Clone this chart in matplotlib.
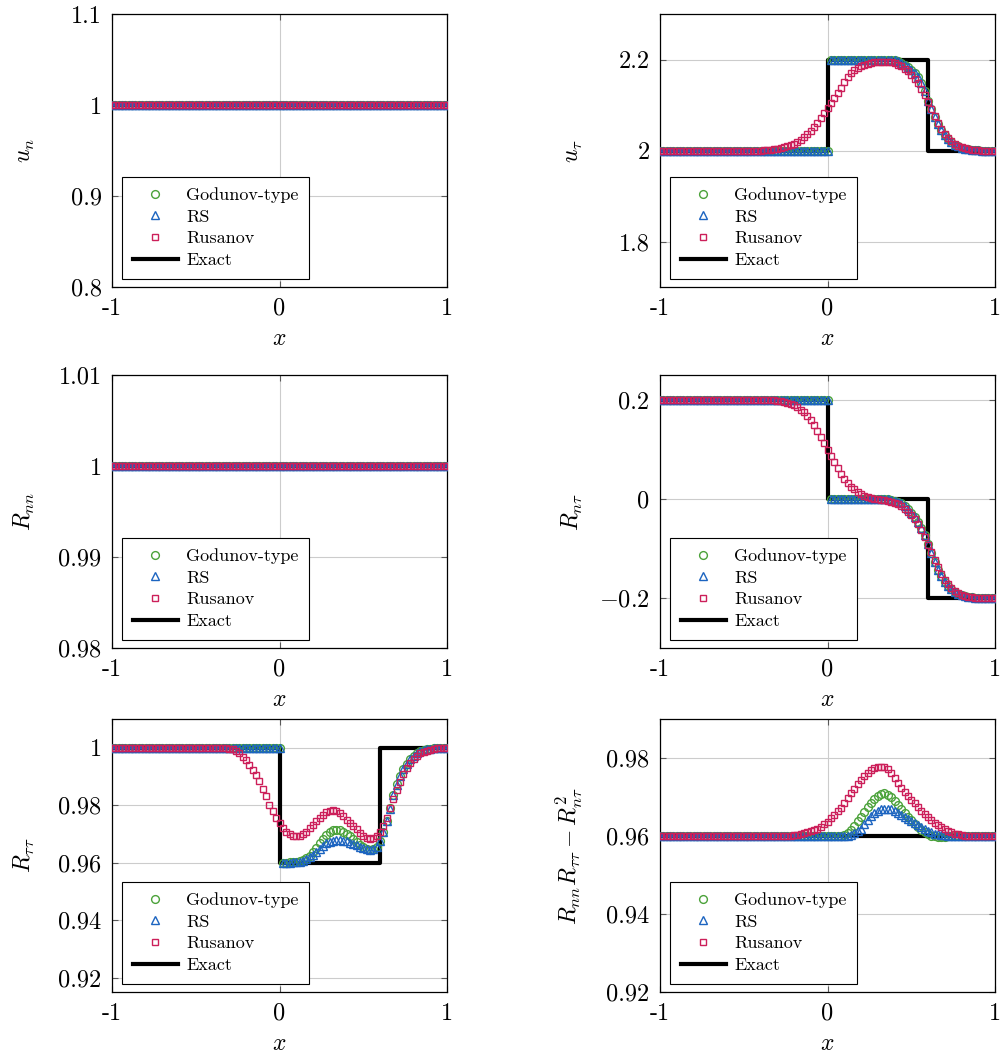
import numpy as np
import matplotlib.pyplot as plt

plt.rcParams['font.family'] = 'cmr10'
plt.rcParams['mathtext.fontset'] = 'cm'
plt.rcParams['axes.unicode_minus'] = False
plt.rcParams['axes.formatter.use_mathtext'] = True

# grid of the numerical solution (101 nodes on [-1, 1])
x = np.linspace(-1, 1, 101)

# exact solution breakpoints
ex_x = [-1.0, 0.0, 0.0, 0.6, 0.6, 1.0]
un_ex = [1.0, 1.0, 1.0, 1.0, 1.0, 1.0]
ut_ex = [2.0, 2.0, 2.2, 2.2, 2.0, 2.0]
rnn_ex = [1.0, 1.0, 1.0, 1.0, 1.0, 1.0]
rnt_ex = [0.2, 0.2, 0.0, 0.0, -0.2, -0.2]
rtt_ex = [1.0, 1.0, 0.96, 0.96, 1.0, 1.0]
det_ex = [0.96, 0.96, 0.96, 0.96, 0.96, 0.96]

# u_n and R_nn stay at 1 for all three schemes
un_god = [1.0] * 101
un_rs = [1.0] * 101
un_rus = [1.0] * 101
rnn_god = [1.0] * 101
rnn_rs = [1.0] * 101
rnn_rus = [1.0] * 101

# u_tau
ut_god = [2.0] * 51 + [2.2] * 17 + [
    2.200, 2.199, 2.198, 2.196, 2.193, 2.189, 2.184, 2.178, 2.170, 2.161,
    2.148, 2.130, 2.110, 2.091, 2.074, 2.058, 2.045, 2.034, 2.025, 2.018,
    2.013, 2.009, 2.006, 2.004, 2.003, 2.002, 2.001, 2.001, 2.000, 2.000,
    2.000, 2.000, 2.000]
ut_rs = [2.0] * 51 + [2.2] * 17 + [
    2.200, 2.199, 2.198, 2.196, 2.193, 2.189, 2.184, 2.178, 2.170, 2.161,
    2.148, 2.130, 2.110, 2.091, 2.074, 2.058, 2.045, 2.034, 2.025, 2.018,
    2.013, 2.009, 2.006, 2.004, 2.003, 2.002, 2.001, 2.001, 2.000, 2.000,
    2.000, 2.000, 2.000]
ut_rus = [2.0] * 30 + [
    2.000, 2.001, 2.001, 2.002, 2.003, 2.004, 2.005, 2.007, 2.009, 2.012,
    2.015, 2.019, 2.024, 2.030, 2.037, 2.044, 2.052, 2.061, 2.071, 2.082,
    2.093, 2.104, 2.115, 2.126, 2.138, 2.150, 2.161, 2.170, 2.177, 2.182,
    2.186, 2.189, 2.191, 2.193, 2.194, 2.195, 2.195, 2.195, 2.195, 2.194,
    2.192, 2.189, 2.185, 2.180, 2.174, 2.167, 2.158, 2.148, 2.136, 2.122,
    2.107, 2.091, 2.076, 2.061, 2.048, 2.037, 2.028, 2.020, 2.014, 2.010,
    2.007, 2.005, 2.003, 2.002, 2.001, 2.001, 2.000, 2.000, 2.000, 2.000,
    2.000]

# R_n tau
rnt_god = [0.2] * 51 + [0.0] * 17 + [
    0.000, -0.001, -0.003, -0.005, -0.008, -0.013, -0.019, -0.027, -0.036, -0.046,
    -0.058, -0.073, -0.091, -0.109, -0.126, -0.142, -0.155, -0.166, -0.175, -0.182,
    -0.187, -0.191, -0.194, -0.196, -0.197, -0.198, -0.199, -0.199, -0.200, -0.200,
    -0.200, -0.200, -0.200]
rnt_rs = [0.2] * 51 + [0.0] * 17 + [
    0.000, -0.001, -0.003, -0.005, -0.008, -0.013, -0.019, -0.027, -0.036, -0.046,
    -0.058, -0.073, -0.091, -0.109, -0.126, -0.142, -0.155, -0.166, -0.175, -0.182,
    -0.187, -0.191, -0.194, -0.196, -0.197, -0.198, -0.199, -0.199, -0.200, -0.200,
    -0.200, -0.200, -0.200]
rnt_rus = [0.2] * 32 + [
    0.200, 0.199, 0.199, 0.198, 0.197, 0.196, 0.194, 0.192, 0.189, 0.185,
    0.180, 0.175, 0.168, 0.160, 0.150, 0.138, 0.126, 0.113, 0.100, 0.087,
    0.074, 0.062, 0.050, 0.040, 0.032, 0.025, 0.020, 0.015, 0.011, 0.007,
    0.005, 0.003, 0.001, 0.000, -0.001, -0.002, -0.003, -0.005, -0.007, -0.010,
    -0.014, -0.019, -0.025, -0.032, -0.041, -0.051, -0.063, -0.077, -0.092, -0.107,
    -0.122, -0.137, -0.150, -0.162, -0.172, -0.180, -0.186, -0.190, -0.193, -0.195,
    -0.197, -0.198, -0.199, -0.199, -0.200, -0.200, -0.200, -0.200, -0.200]

# R_tau tau
rtt_god = [1.0] * 51 + [
    0.9600, 0.9600, 0.9601, 0.9602, 0.9604, 0.9607, 0.9611, 0.9615, 0.9624, 0.9636,
    0.9651, 0.9667, 0.9683, 0.9697, 0.9707, 0.9713, 0.9715, 0.9713, 0.9708, 0.9701,
    0.9692, 0.9682, 0.9672, 0.9663, 0.9655, 0.9649, 0.9645, 0.9646, 0.9656, 0.9677,
    0.9707, 0.9745, 0.9789, 0.9835, 0.9873, 0.9903, 0.9926, 0.9945, 0.9960, 0.9972,
    0.9981, 0.9987, 0.9991, 0.9994, 0.9996, 0.9998, 0.9999, 1.0000, 1.0000, 1.0000]
rtt_rs = [1.0] * 51 + [
    0.9600, 0.9600, 0.9600, 0.9601, 0.9602, 0.9604, 0.9607, 0.9612, 0.9619, 0.9628,
    0.9638, 0.9649, 0.9659, 0.9667, 0.9673, 0.9677, 0.9679, 0.9679, 0.9677, 0.9674,
    0.9670, 0.9665, 0.9660, 0.9655, 0.9651, 0.9647, 0.9645, 0.9646, 0.9655, 0.9676,
    0.9706, 0.9744, 0.9788, 0.9834, 0.9872, 0.9902, 0.9926, 0.9945, 0.9960, 0.9972,
    0.9981, 0.9987, 0.9991, 0.9994, 0.9996, 0.9998, 0.9999, 1.0000, 1.0000, 1.0000]
rtt_rus = [1.0] * 32 + [
    1.0000, 0.9999, 0.9998, 0.9997, 0.9994, 0.9989, 0.9981, 0.9969, 0.9956, 0.9941,
    0.9923, 0.9904, 0.9883, 0.9858, 0.9831, 0.9802, 0.9779, 0.9756, 0.9737, 0.9719,
    0.9708, 0.9699, 0.9694, 0.9692, 0.9694, 0.9699, 0.9708, 0.9719, 0.9731, 0.9744,
    0.9755, 0.9765, 0.9775, 0.9780, 0.9782, 0.9780, 0.9772, 0.9762, 0.9750, 0.9739,
    0.9727, 0.9716, 0.9704, 0.9694, 0.9687, 0.9682, 0.9685, 0.9694, 0.9708, 0.9728,
    0.9755, 0.9790, 0.9822, 0.9852, 0.9880, 0.9907, 0.9930, 0.9948, 0.9962, 0.9972,
    0.9980, 0.9986, 0.9990, 0.9993, 0.9996, 0.9998, 0.9999, 1.0000, 1.0000]

# R_nn R_tautau - R_ntau^2
det_god = [0.96] * 55 + [
    0.9603, 0.9608, 0.9616, 0.9626, 0.9638, 0.9650, 0.9662, 0.9674, 0.9685, 0.9695,
    0.9703, 0.9708, 0.9709, 0.9706, 0.9699, 0.9690, 0.9680, 0.9670, 0.9660, 0.9650,
    0.9641, 0.9632, 0.9624, 0.9616, 0.9609, 0.9604, 0.9601, 0.9599, 0.9598, 0.9598,
    0.9598, 0.9599, 0.9599, 0.9600, 0.9600, 0.9600, 0.9600, 0.9600, 0.9600, 0.9600,
    0.9600, 0.9600, 0.9600, 0.9600, 0.9600, 0.9600]
det_rs = [0.96] * 57 + [
    0.9603, 0.9607, 0.9612, 0.9619, 0.9630, 0.9641, 0.9651, 0.9659, 0.9664, 0.9668,
    0.9670, 0.9670, 0.9668, 0.9665, 0.9660, 0.9655, 0.9650, 0.9644, 0.9638, 0.9633,
    0.9627, 0.9622, 0.9617, 0.9613, 0.9609, 0.9606, 0.9604, 0.9603, 0.9602, 0.9601,
    0.9601, 0.9600, 0.9600, 0.9600, 0.9600, 0.9600, 0.9600, 0.9600, 0.9600, 0.9600,
    0.9600, 0.9600, 0.9600, 0.9600]
det_rus = [0.96] * 37 + [
    0.9600, 0.9601, 0.9601, 0.9602, 0.9603, 0.9605, 0.9607, 0.9609, 0.9612, 0.9615,
    0.9619, 0.9624, 0.9630, 0.9637, 0.9645, 0.9653, 0.9663, 0.9673, 0.9685, 0.9697,
    0.9709, 0.9721, 0.9733, 0.9744, 0.9754, 0.9762, 0.9769, 0.9774, 0.9777, 0.9778,
    0.9776, 0.9771, 0.9762, 0.9750, 0.9737, 0.9724, 0.9712, 0.9703, 0.9693, 0.9684,
    0.9674, 0.9665, 0.9656, 0.9648, 0.9641, 0.9634, 0.9628, 0.9622, 0.9617, 0.9612,
    0.9609, 0.9606, 0.9604, 0.9602, 0.9601, 0.9601, 0.9600, 0.9600, 0.9600, 0.9600,
    0.9600, 0.9600, 0.9600, 0.9600]

labels = ['Godunov-type', 'RS', 'Rusanov', 'Exact']
c_god = '#4ba23a'
c_rs = '#1c64c0'
c_rus = '#cc1f5a'

panels = [
    (r'$u_n$', un_god, un_rs, un_rus, un_ex, (0.8, 1.1),
     [0.8, 0.9, 1.0, 1.1], ['0.8', '0.9', '1', '1.1']),
    (r'$u_\tau$', ut_god, ut_rs, ut_rus, ut_ex, (1.7, 2.3),
     [1.8, 2.0, 2.2], ['1.8', '2', '2.2']),
    (r'$R_{nn}$', rnn_god, rnn_rs, rnn_rus, rnn_ex, (0.98, 1.01),
     [0.98, 0.99, 1.0, 1.01], ['0.98', '0.99', '1', '1.01']),
    (r'$R_{n\tau}$', rnt_god, rnt_rs, rnt_rus, rnt_ex, (-0.3, 0.25),
     [-0.2, 0.0, 0.2], [r'$-0.2$', '0', '0.2']),
    (r'$R_{\tau\tau}$', rtt_god, rtt_rs, rtt_rus, rtt_ex, (0.915, 1.01),
     [0.92, 0.94, 0.96, 0.98, 1.0], ['0.92', '0.94', '0.96', '0.98', '1']),
    (r'$R_{nn}R_{\tau\tau}-R_{n\tau}^2$', det_god, det_rs, det_rus, det_ex, (0.92, 0.99),
     [0.92, 0.94, 0.96, 0.98], ['0.92', '0.94', '0.96', '0.98']),
]

fig = plt.figure(figsize=(10, 10.58), dpi=100)
lefts = [0.112, 0.660]
bottoms = [0.7287, 0.3875, 0.0624]

for k, (ylab, yg, yr, yq, ye, ylim, yt, ytl) in enumerate(panels):
    ax = fig.add_axes([lefts[k % 2], bottoms[k // 2], 0.335, 0.258])
    h_ex, = ax.plot(ex_x, ye, color='black', lw=3, zorder=2)
    h_god, = ax.plot(x, yg, ls='none', marker='o', ms=5.6, mfc='none',
                     mec=c_god, mew=1.0, zorder=3)
    h_rs, = ax.plot(x, yr, ls='none', marker='^', ms=5.6, mfc='none',
                    mec=c_rs, mew=1.0, zorder=4)
    h_rus, = ax.plot(x, yq, ls='none', marker='s', ms=4.4, mfc='none',
                     mec=c_rus, mew=1.0, zorder=5)
    ax.set_xlim(-1, 1)
    ax.set_ylim(*ylim)
    ax.set_xticks([-1, 0, 1])
    ax.set_xticklabels(['-1', '0', '1'])
    ax.set_yticks(yt)
    ax.set_yticklabels(ytl)
    ax.tick_params(direction='in', length=4, width=0.8, color='0.35',
                   top=True, right=True, labelsize=17.5, pad=7.5)
    ax.grid(True, color='0.8', lw=0.8)
    ax.set_axisbelow(True)
    for sp in ax.spines.values():
        sp.set_linewidth(0.9)
    ax.set_xlabel(r'$x$', fontsize=17)
    ax.set_ylabel(ylab, fontsize=17)
    ax.yaxis.set_label_coords(-0.225, 0.5)
    ax.xaxis.set_label_coords(0.5, -0.15)
    leg = ax.legend([h_god, h_rs, h_rus, h_ex], labels, loc='lower left',
                    bbox_to_anchor=(0.03, 0.03), borderaxespad=0, fontsize=13,
                    fancybox=False, edgecolor='black', framealpha=1,
                    handlelength=2.5, handletextpad=0.45, labelspacing=0.33,
                    borderpad=0.6, numpoints=1)
    leg.get_frame().set_linewidth(0.8)

fig.savefig('out.png', dpi=100)
